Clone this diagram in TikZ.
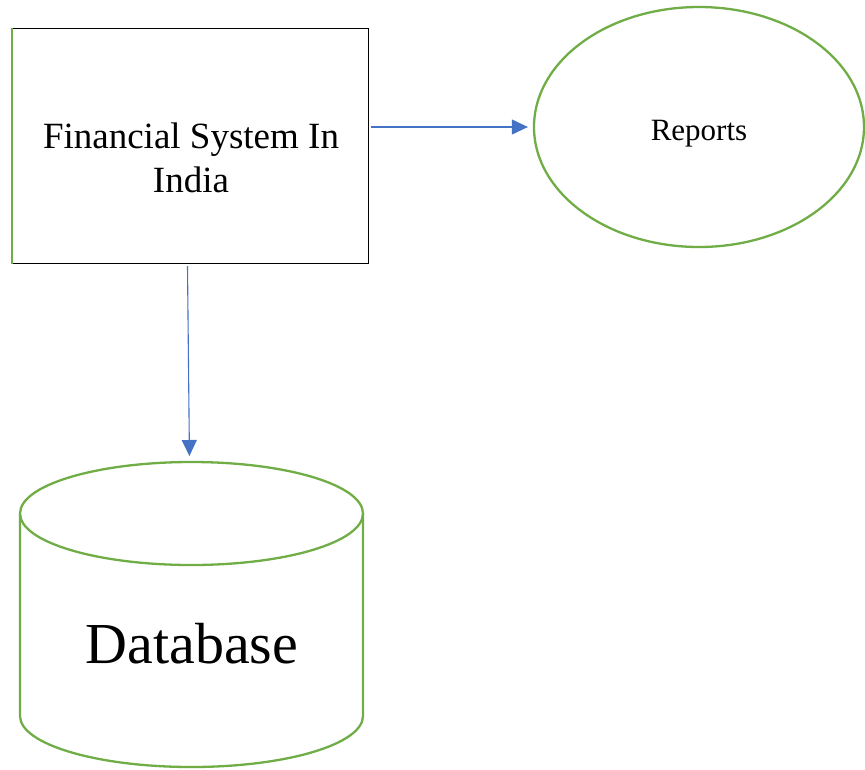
\documentclass[tikz,border=0pt]{standalone}
\usepackage{fontspec}
\setmainfont{Liberation Serif}
\usetikzlibrary{shapes.geometric,arrows.meta}
\definecolor{grn}{HTML}{70AD47}
\definecolor{blu}{HTML}{4472C4}
\tikzset{
  conn/.style={draw=blu, line width=1.1pt, -{Triangle[length=16pt,width=15pt]}},
  greenline/.style={draw=grn, line width=2.3pt},
  lbl/.style={inner sep=0, text=black, align=center},
}
\begin{document}
\begin{tikzpicture}[x=1pt,y=-1pt]
\useasboundingbox (0,0) rectangle (865,769);
% Financial System box
\node[draw=black, line width=1pt, minimum width=356pt, minimum height=235pt, anchor=north west, inner sep=0] (fs) at (12,28) {};
\draw[draw=grn, line width=2pt] (fs.north west) -- (fs.south west);
\node[lbl, anchor=base, font=\fontsize{37}{44}\selectfont] (fstext) at (191,192) {Financial System In\\India};
% Reports ellipse
\node[ellipse, greenline, minimum width=330pt, minimum height=240pt, inner sep=0] (rep) at (699,127) {};
\node[lbl, anchor=base, font=\fontsize{31}{36}\selectfont] (reptext) at (699,140) {Reports};
% Database cylinder
\coordinate (dbtop) at (191.5,462);
\draw[greenline] (191.5,513.5) ellipse [x radius=171.5pt, y radius=51.5pt];
\draw[greenline] (20,513.5) -- (20,716) arc[start angle=180, end angle=360, x radius=171.5pt, y radius=51pt] -- (363,513.5);
\node[lbl, anchor=base, font=\fontsize{58}{66}\selectfont] (db) at (192,663) {Database};
% connectors
\draw[conn, shorten <=2pt, shorten >=5pt] (fs.east |- rep.west) -- (rep.west);
\draw[conn, shorten >=6pt] ([xshift=-3pt,yshift=-2pt]fs.south) -- ([xshift=-2pt]dbtop);
\end{tikzpicture}
\end{document}
